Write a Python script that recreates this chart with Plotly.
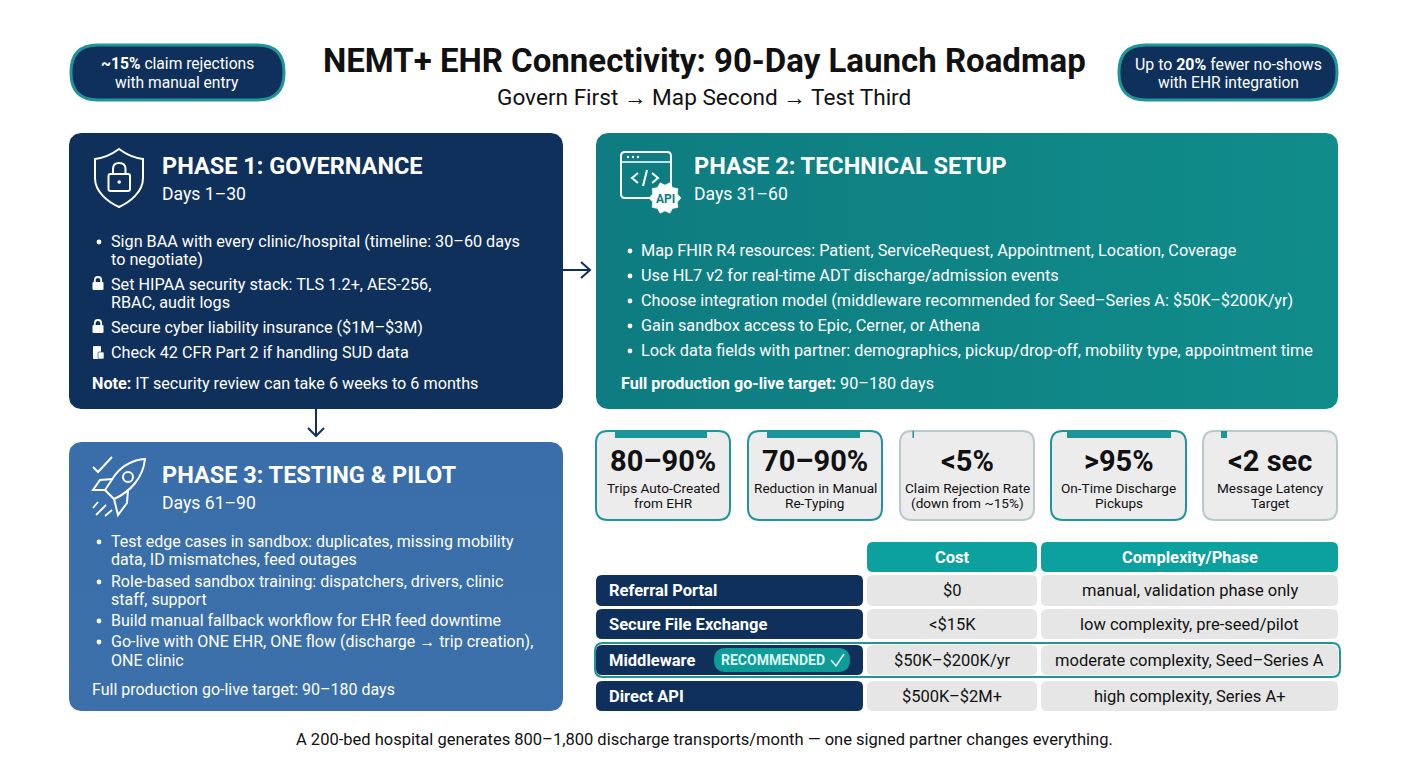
import plotly.graph_objects as go
import math

# texts
title = "NEMT+ EHR Connectivity: 90-Day Launch Roadmap"
subtitle = "Govern First → Map Second → Test Third"
footer = "A 200-bed hospital generates 800–1,800 discharge transports/month — one signed partner changes everything."
pill_left = ["<b>~15%</b> claim rejections", "with manual entry"]
pill_right = ["Up to <b>20%</b> fewer no-shows", "with EHR integration"]

phase1_head = ["PHASE 1: GOVERNANCE", "Days 1–30"]
phase1_lines = ["Sign BAA with every clinic/hospital (timeline: 30–60 days", "to negotiate)",
                "Set HIPAA security stack: TLS 1.2+, AES-256,", "RBAC, audit logs",
                "Secure cyber liability insurance ($1M–$3M)", "Check 42 CFR Part 2 if handling SUD data"]
phase1_note = "<b>Note:</b> IT security review can take 6 weeks to 6 months"

phase2_head = ["PHASE 2: TECHNICAL SETUP", "Days 31–60"]
phase2_lines = ["Map FHIR R4 resources: Patient, ServiceRequest, Appointment, Location, Coverage",
                "Use HL7 v2 for real-time ADT discharge/admission events",
                "Choose integration model (middleware recommended for Seed–Series A: $50K–$200K/yr)",
                "Gain sandbox access to Epic, Cerner, or Athena",
                "Lock data fields with partner: demographics, pickup/drop-off, mobility type, appointment time"]
phase2_note = "<b>Full production go-live target:</b> 90–180 days"

phase3_head = ["PHASE 3: TESTING &amp; PILOT", "Days 61–90"]
phase3_lines = ["Test edge cases in sandbox: duplicates, missing mobility", "data, ID mismatches, feed outages",
                "Role-based sandbox training: dispatchers, drivers, clinic", "staff, support",
                "Build manual fallback workflow for EHR feed downtime",
                "Go-live with ONE EHR, ONE flow (discharge → trip creation),", "ONE clinic"]
phase3_note = "Full production go-live target: 90–180 days"

kpi_values = ["80–90%", "70–90%", "&lt;5%", "&gt;95%", "&lt;2 sec"]
kpi_label1 = ["Trips Auto-Created", "Reduction in Manual", "Claim Rejection Rate", "On-Time Discharge", "Message Latency"]
kpi_label2 = ["from EHR", "Re-Typing", "(down from ~15%)", "Pickups", "Target"]

table_cols = ["Cost", "Complexity/Phase"]
table_rows = ["Referral Portal", "Secure File Exchange", "Middleware", "Direct API"]
table_cost = ["$0", "&lt;$15K", "$50K–$200K/yr", "$500K–$2M+"]
table_phase = ["manual, validation phase only", "low complexity, pre-seed/pilot",
               "moderate complexity, Seed–Series A", "high complexity, Series A+"]
badge = "RECOMMENDED"

# colours
NAVY = "#10305c"
TEAL = "#0ca09e"
RING = "#1f9599"
GREY = "#e6e6e6"
INK = "#111111"
FONT = "Roboto"
BODY = 16.2
HEAD = 23.5

shapes = []
notes = []
traces = []


def rr_path(x0, y0, x1, y1, r):
    return (f"M{x0+r},{y0} L{x1-r},{y0} Q{x1},{y0} {x1},{y0+r} L{x1},{y1-r} Q{x1},{y1} {x1-r},{y1} "
            f"L{x0+r},{y1} Q{x0},{y1} {x0},{y1-r} L{x0},{y0+r} Q{x0},{y0} {x0+r},{y0} Z")


def box(x0, y0, x1, y1, r, fill, line=None, width=0):
    shapes.append(dict(type="path", path=rr_path(x0, y0, x1, y1, r), fillcolor=fill,
                       line=dict(color=line or "rgba(0,0,0,0)", width=width)))


def stroke(path, color="white", width=2, fill="rgba(0,0,0,0)"):
    shapes.append(dict(type="path", path=path, fillcolor=fill, line=dict(color=color, width=width)))


def text(x, y, s, size, color="white", anchor="left", bold=False):
    notes.append(dict(x=x, y=y, xref="x", yref="y", text=f"<b>{s}</b>" if bold else s, showarrow=False,
                      xanchor=anchor, yanchor="middle", borderpad=0, borderwidth=0,
                      font=dict(family=FONT, size=size, color=color)))


def panel(x0, y0, x1, y1, r, colors, kind):
    # rounded panel with a soft gradient, as a filled trace
    xs, ys = [], []
    corners = [(x1 - r, y0 + r, -90), (x1 - r, y1 - r, 0), (x0 + r, y1 - r, 90), (x0 + r, y0 + r, 180)]
    for cx, cy, a in corners:
        for k in range(9):
            t = math.radians(a + k * 90 / 8)
            xs.append(cx + r * math.cos(t))
            ys.append(cy + r * math.sin(t))
    xs.append(xs[0])
    ys.append(ys[0])
    traces.append(go.Scatter(x=xs, y=ys, mode="lines", fill="toself", line=dict(width=0, color=colors[0]),
                             fillgradient=dict(type=kind, colorscale=[[0, colors[0]], [1, colors[1]]]),
                             hoverinfo="skip", showlegend=False))


def lock(x, y):
    # small solid padlock glyph
    box(x - 5.5, y - 2, x + 5.5, y + 6, 1, "white")
    stroke(f"M{x-3.2},{y-2} L{x-3.2},{y-3.5} Q{x-3.2},{y-7} {x},{y-7} Q{x+3.2},{y-7} {x+3.2},{y-3.5} L{x+3.2},{y-2}",
           width=1.8)


def dot(x, y, r, fill="white"):
    shapes.append(dict(type="circle", x0=x - r, x1=x + r, y0=y - r, y1=y + r, fillcolor=fill,
                       line=dict(width=0, color=fill)))


# header
text(704, 60, title, 33, INK, "center", True)
text(704, 97, subtitle, 22.6, INK, "center")

box(71, 45, 284, 100, 27, NAVY, RING, 3)
text(177, 64, pill_left[0], 15.6, "white", "center")
text(177, 83, pill_left[1], 15.6, "white", "center")
box(1119, 45, 1337, 100, 27, NAVY, RING, 3)
text(1228, 64, pill_right[0], 15.9, "white", "center")
text(1228, 83, pill_right[1], 15.6, "white", "center")

# phase panels
panel(69, 133, 563, 409, 12, ["#10305c", "#10305c"], "vertical")
panel(596, 133, 1338, 409, 12, ["#0e7c80", "#108c8b"], "horizontal")
panel(69, 442, 563, 711, 12, ["#3b70aa", "#396eaa"], "vertical")

# phase 1
text(162, 166, phase1_head[0], HEAD, "white", bold=True)
text(162, 194, phase1_head[1], 17.6)
stroke("M119,149 C111,155 103,158 95,159 L95,178 C95,192 108,202 119,207 C130,202 143,192 143,178 "
       "L143,159 C135,158 127,155 119,149 Z", width=2)
box(108.5, 174, 130, 191, 2, "rgba(0,0,0,0)", "white", 2)
stroke("M113,174 L113,169 Q113,163 119,163 Q125.5,163 125.5,169 L125.5,174")
dot(119.2, 182, 1.8)
phase1_y = [241, 259, 284, 302, 327, 352]
for s, y in zip(phase1_lines, phase1_y):
    text(111, y, s, BODY)
dot(99, 242, 2.4)
lock(98, 284)
lock(98, 327)
# document glyph
box(93, 346, 101, 359, 1, "white")
box(98, 352, 104, 359, 1, "white", NAVY, 0.6)
text(92, 383, phase1_note, 16.2)

# phase 2
text(694, 166, phase2_head[0], HEAD, "white", bold=True)
text(694, 194, phase2_head[1], 17.6)
stroke("M665,198 L625,198 Q621,198 621,194 L621,156 Q621,152 625,152 L667,152 Q671,152 671,156 L671,186")
stroke("M621,162 L671,162", width=1.5)
for x in (628, 633, 638):
    dot(x, 157, 1.2)
stroke("M638,173 L632,178 L638,183")
stroke("M652,173 L658,178 L652,183")
stroke("M647,170 L643,186")
teeth = []
for k in range(20):
    rad = 16 if k % 2 == 0 else 13
    t = math.radians(k * 18)
    teeth.append(f"{'M' if k == 0 else 'L'}{665 + rad * math.cos(t):.1f},{198 + rad * math.sin(t):.1f}")
stroke(" ".join(teeth) + " Z", width=0.5, fill="white")
text(665, 198.5, "API", 12, "#0e7c80", "center", True)
phase2_y = [250, 275, 300, 325, 350]
for s, y in zip(phase2_lines, phase2_y):
    dot(630, y + 1, 2.4)
    text(641, y, s, 16.3)
text(621, 383, phase2_note, 16.2)

# phase 3
text(162, 475, phase3_head[0], HEAD, "white", bold=True)
text(162, 503, phase3_head[1], 17.6)
stroke("M93,467 L98,472 L112,457")
stroke("M145,459 C133,460 122,466 115,475 L105,490 L114,499 C130,492 143,478 145,459 Z")
shapes.append(dict(type="circle", x0=123, x1=133, y0=472, y1=482, fillcolor="rgba(0,0,0,0)",
                   line=dict(color="white", width=2)))
stroke("M113,479 L100,480 L93,490 L105,490")
stroke("M128,490 L127,503 L118,515 L114,499")
stroke("M98,502 L93,508", width=1.8)
stroke("M106,505 L96,515", width=1.8)
stroke("M112,510 L105,516", width=1.8)
phase3_y = [541, 559, 581, 599, 620, 641, 660]
for s, y in zip(phase3_lines, phase3_y):
    text(111, y, s, 16)
for y in (542, 582, 621, 642):
    dot(99, y, 2.4)
text(92, 689, phase3_note, 16)

# arrows between panels
stroke("M563,270 L590,270 M581,262 L590,270 L581,278", NAVY, 2)
stroke("M316,409 L316,436 M308,428 L316,436 L324,428", NAVY, 2)

# KPI cards
card_x0 = [596, 748, 900, 1051, 1203]
card_x1 = [730, 882, 1034, 1186, 1337]
tab_x0 = [615, 767, 912.5, 1067, 1221]
tab_x1 = [707, 860, 914, 1171, 1227]
card_line = [RING, RING, "#b9c9ca", RING, "#b9c9ca"]
for i in range(5):
    box(card_x0[i], 431, card_x1[i], 520, 12, "#ececec", card_line[i], 2)
    shapes.append(dict(type="path", fillcolor="#1b9597", line=dict(width=0, color="#1b9597"),
                       path=f"M{tab_x0[i]},431 L{tab_x1[i]},431 L{tab_x1[i]},438 L{tab_x0[i]},438 Z"))
    cx = (card_x0[i] + card_x1[i]) / 2
    text(cx, 461, kpi_values[i], 29, INK, "center", True)
    text(cx, 488, kpi_label1[i], 13.6, INK, "center")
    text(cx, 503, kpi_label2[i], 13.6, INK, "center")

# comparison table
col_x0 = [867, 1041]
col_x1 = [1037, 1338]
for i in range(2):
    box(col_x0[i], 542, col_x1[i], 572, 6, TEAL)
    text((col_x0[i] + col_x1[i]) / 2, 557, table_cols[i], 16.5, "white", "center", True)
row_y0 = [575, 609, 645, 681]
row_y1 = [606, 639, 675, 711]
for i in range(4):
    cy = (row_y0[i] + row_y1[i]) / 2
    box(596, row_y0[i], 863, row_y1[i], 6, NAVY)
    box(col_x0[0], row_y0[i], col_x1[0], row_y1[i], 6, GREY)
    box(col_x0[1], row_y0[i], col_x1[1], row_y1[i], 6, GREY)
    text(609, cy, table_rows[i], 16.5, "white", bold=True)
    text((col_x0[0] + col_x1[0]) / 2, cy, table_cost[i], 16.5, INK, "center")
    text((col_x0[1] + col_x1[1]) / 2, cy, table_phase[i], 16.5, INK, "center")
box(595, 643, 1340, 677, 8, "rgba(0,0,0,0)", RING, 2)
box(714, 648, 850, 672, 12, "#0f9c99")
text(721, 660, badge, 14, "#d9f5ef", "left", True)
stroke("M831,660 L836,666 L844,654", "#d9f5ef", 1.6)

text(704, 739, footer, 16.5, INK, "center")

fig = go.Figure(data=traces)
fig.update_layout(width=1408, height=768, margin=dict(l=0, r=0, t=0, b=0), paper_bgcolor="white",
                  plot_bgcolor="white", showlegend=False, shapes=shapes, annotations=notes,
                  xaxis=dict(range=[0, 1408], visible=False, fixedrange=True),
                  yaxis=dict(range=[768, 0], visible=False, fixedrange=True))
fig.write_html("out.html", config=dict(displayModeBar=False),
               post_script="document.body.style.margin='0';document.body.style.overflow='hidden';")
